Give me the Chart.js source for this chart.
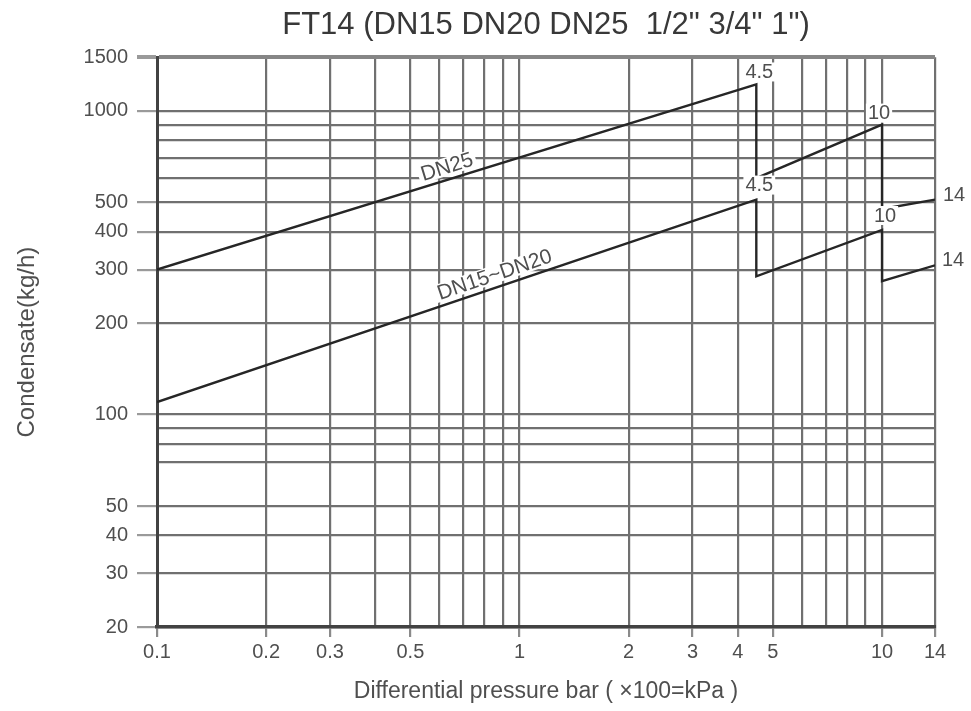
<!DOCTYPE html>
<html>
<head>
<meta charset="utf-8">
<script src="https://cdn.jsdelivr.net/npm/chart.js@4.4.1/dist/chart.umd.min.js"></script>
<style>
  html, body { margin: 0; padding: 0; background: #fff; }
  #wrap { width: 971px; height: 711px; }
</style>
</head>
<body>
<div id="wrap"><canvas id="chart"></canvas></div>
<script>
// differential pressure (bar) and condensate (kg/h)
const pressureDN25 = [0.1, 4.5, 4.5, 10, 10, 14];
const flowDN25 = [300, 1220, 600, 900, 475, 510];
const pressureDN15 = [0.1, 4.5, 4.5, 10, 10, 14];
const flowDN15 = [110, 510, 285, 405, 275, 310];

// grid lines and the ones that carry a label
const xGrid = [0.1, 0.2, 0.3, 0.4, 0.5, 0.6, 0.7, 0.8, 0.9, 1, 2, 3, 4, 5, 6, 7, 8, 9, 10, 14];
const xLabels = [0.1, 0.2, 0.3, 0.5, 1, 2, 3, 4, 5, 10, 14];
const yGrid = [20, 30, 40, 50, 70, 80, 90, 100, 200, 300, 400, 500, 600, 700, 800, 900, 1000, 1500];
const yLabels = [20, 30, 40, 50, 100, 200, 300, 400, 500, 1000, 1500];

// pressure marks next to the curve ends
const pointNotes = [
  { text: "4.5", series: 0, point: 1, dx: 3, dy: -12 },
  { text: "10", series: 0, point: 3, dx: -3, dy: -11 },
  { text: "14", series: 0, point: 5, dx: 19, dy: -4 },
  { text: "4.5", series: 1, point: 1, dx: 3, dy: -14 },
  { text: "10", series: 1, point: 3, dx: 3, dy: -14 },
  { text: "14", series: 1, point: 5, dx: 18, dy: -5 },
];
// curve names written along the first segment
const lineNotes = [
  { text: "DN25", series: 0, at: 0.49, lift: 12 },
  { text: "DN15~DN20", series: 1, at: 0.57, lift: 12 },
];

const FONT = "'Liberation Sans', Arial, sans-serif";
const TEXT = "#4f4f4f";
const GRID = "#707070";

function toPoints(xs, ys) {
  return xs.map((x, i) => ({ x: x, y: ys[i] }));
}

const notesPlugin = {
  id: "notes",
  afterDatasetsDraw(chart) {
    const ctx = chart.ctx;
    ctx.save();
    ctx.textAlign = "center";
    ctx.textBaseline = "middle";

    ctx.font = "20px " + FONT;
    pointNotes.forEach((n) => {
      const p = chart.getDatasetMeta(n.series).data[n.point];
      const x = p.x + n.dx;
      const y = p.y + n.dy;
      const w = ctx.measureText(n.text).width;
      ctx.fillStyle = "#fff";
      ctx.fillRect(x - w / 2 - 2, y - 10, w + 4, 19);
      ctx.fillStyle = TEXT;
      ctx.fillText(n.text, x, y);
    });

    ctx.font = "21px " + FONT;
    lineNotes.forEach((n) => {
      const pts = chart.getDatasetMeta(n.series).data;
      const a = pts[0], b = pts[1];
      const angle = Math.atan2(b.y - a.y, b.x - a.x);
      const x = a.x + (b.x - a.x) * n.at;
      const y = a.y + (b.y - a.y) * n.at;
      ctx.save();
      ctx.translate(x, y);
      ctx.rotate(angle);
      const w = ctx.measureText(n.text).width;
      ctx.fillStyle = "#fff";
      ctx.fillRect(-w / 2 - 3, -n.lift - 10, w + 6, 18);
      ctx.fillStyle = TEXT;
      ctx.fillText(n.text, 0, -n.lift);
      ctx.restore();
    });
    ctx.restore();
  },
};

new Chart(document.getElementById("chart"), {
  type: "scatter",
  data: {
    datasets: [
      { label: "DN25", data: toPoints(pressureDN25, flowDN25) },
      { label: "DN15~DN20", data: toPoints(pressureDN15, flowDN15) },
    ],
  },
  options: {
    responsive: true,
    maintainAspectRatio: false,
    animation: false,
    showLine: true,
    elements: {
      line: { borderColor: "#262626", borderWidth: 2.4, tension: 0, fill: false },
      point: { radius: 0, hoverRadius: 0 },
    },
    layout: { padding: { left: 0, right: 36, top: 0, bottom: 0 } },
    plugins: {
      legend: { display: false },
      tooltip: { enabled: false },
      title: {
        display: true,
        fullSize: false,
        text: 'FT14 (DN15 DN20 DN25  1/2" 3/4" 1")',
        color: "#383838",
        font: { family: FONT, size: 31, weight: "normal" },
        padding: { top: 7, bottom: 13 },
      },
    },
    scales: {
      x: {
        type: "logarithmic",
        min: 0.1,
        max: 14,
        afterBuildTicks: (scale) => {
          scale.ticks = xGrid.map((v) => ({ value: v }));
        },
        afterFit: (scale) => {
          scale.height = 84;
        },
        ticks: {
          autoSkip: false,
          maxRotation: 0,
          padding: 3,
          color: TEXT,
          font: { family: FONT, size: 20 },
          callback: (v) => (xLabels.includes(v) ? String(v) : ""),
        },
        grid: {
          color: GRID,
          lineWidth: 2.2,
          tickLength: 10,
          tickColor: (c) => (c.tick && xLabels.includes(c.tick.value) ? "#8a8a8a" : "rgba(0,0,0,0)"),
        },
        border: { display: true, color: "#424242", width: 3.5 },
        title: {
          display: true,
          text: "Differential pressure bar ( ×100=kPa )",
          color: TEXT,
          font: { family: FONT, size: 23 },
          padding: { top: 0, bottom: 6 },
        },
      },
      y: {
        type: "logarithmic",
        min: 20,
        max: 1500,
        afterBuildTicks: (scale) => {
          scale.ticks = yGrid.map((v) => ({ value: v }));
        },
        afterFit: (scale) => {
          scale.width = 157;
        },
        ticks: {
          autoSkip: false,
          padding: 9,
          color: TEXT,
          font: { family: FONT, size: 20 },
          callback: (v) => (yLabels.includes(v) ? String(v) : ""),
        },
        grid: {
          color: (c) => (c.tick && c.tick.value === 1500 ? "#868686" : GRID),
          lineWidth: (c) => (c.tick && c.tick.value === 1500 ? 4 : 2.2),
          tickLength: 20,
          tickColor: (c) => (c.tick && yLabels.includes(c.tick.value) ? "#9a9a9a" : "rgba(0,0,0,0)"),
        },
        border: { display: true, color: "#424242", width: 3 },
        title: {
          display: true,
          text: "Condensate(kg/h)",
          color: TEXT,
          font: { family: FONT, size: 24 },
          padding: { top: 13, bottom: 0 },
        },
      },
    },
  },
  plugins: [notesPlugin],
});
</script>
</body>
</html>
